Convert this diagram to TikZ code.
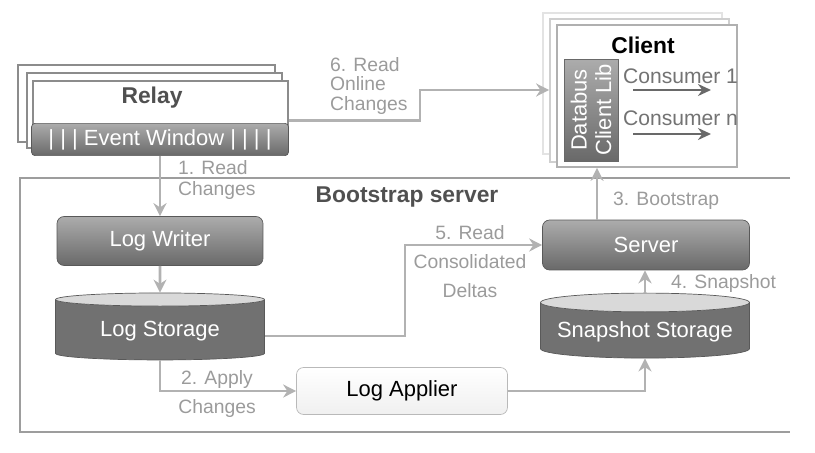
\documentclass[tikz,border=0pt]{standalone}
\usepackage{fontspec}
\setmainfont{Liberation Sans}
\usetikzlibrary{arrows.meta, shapes.geometric, positioning, calc}
\definecolor{BoxTop}{RGB}{172,172,172}
\definecolor{BoxBot}{RGB}{105,105,105}
\definecolor{FlowGray}{RGB}{178,178,178}
\definecolor{LabelGray}{RGB}{155,155,155}
\definecolor{FrameGray}{RGB}{140,140,140}
\definecolor{TitleGray}{RGB}{80,80,80}
\definecolor{ConsGray}{RGB}{115,115,115}

\begin{document}
\begin{tikzpicture}[x=0.02cm, y=-0.02cm, font=\fontsize{12.5}{14}\selectfont,
	proc/.style={rectangle, draw=BoxBot!85!black, rounded corners=4pt,
		top color=BoxTop, bottom color=BoxBot, text=white,
		minimum width=4.12cm, minimum height=0.98cm},
	lightproc/.style={rectangle, draw=gray!55, rounded corners=4pt,
		top color=white, bottom color=gray!12, text=black,
		minimum width=4.22cm, minimum height=0.94cm},
	store/.style={cylinder, shape border rotate=90, aspect=0.1,
		draw=BoxBot!85!black, cylinder uses custom fill,
		cylinder body fill=BoxBot!95, cylinder end fill=gray!30, text=white,
		minimum width=4.18cm, minimum height=1.34cm},
	stk/.style={rectangle, draw=FrameGray, fill=white, line width=0.8pt},
	cstk/.style={rectangle, fill=white, line width=1pt},
	fl/.style={-{Stealth[length=2.6mm, width=2.6mm]}, line width=1.6pt, FlowGray},
	cfl/.style={-{Stealth[length=2.6mm, width=2.4mm]}, line width=1.4pt, BoxBot},
	lbl/.style={text=LabelGray, inner sep=1pt},
	frame/.style={draw=FrameGray!85, line width=1.2pt}]

	\useasboundingbox (0,0) rectangle (815,453);

	% relay stack
	\node[stk, minimum width=5.14cm, minimum height=1.54cm] (relayA) at (146.5,103.5) {};
	\node[stk, minimum width=5.1cm, minimum height=1.5cm] (relayB) at (154.5,110.5) {};
	\node[stk, minimum width=5.1cm, minimum height=1.38cm] (relayC) at (160.5,115.5) {};
	\node[text=TitleGray, font=\fontsize{13}{14}\selectfont\bfseries] (relaytxt) at (152,98) {Relay};
	\node[proc, rounded corners=2pt, minimum width=5.14cm, minimum height=0.58cm] (ew) at (160,139.5)
		{| | | Event Window | | | |};

	% client stack
	\node[cstk, draw=gray!22, minimum width=3.58cm, minimum height=2.82cm] (clA) at (632.5,83.5) {};
	\node[cstk, draw=gray!38, minimum width=3.58cm, minimum height=2.86cm] (clB) at (639.5,90.5) {};
	\node[cstk, draw=gray!62, minimum width=3.6cm, minimum height=2.84cm] (clC) at (647,96) {};
	\node[font=\fontsize{13}{14}\selectfont\bfseries] (cltxt) at (643,45) {Client};
	\node[rectangle, draw=BoxBot, top color=BoxTop, bottom color=BoxBot,
		minimum width=1.08cm, minimum height=2.04cm] (lib) at (591,110) {};
	\node[rotate=90, text=white, align=center, font=\fontsize{12.5}{14}\selectfont] (libtxt) at (lib.center)
		{Databus\\Client Lib};
	\node[anchor=west, text=ConsGray, inner sep=1pt, font=\fontsize{12}{13}\selectfont] (cons1) at (621,76) {Consumer 1};
	\node[anchor=west, text=ConsGray, inner sep=1pt, font=\fontsize{12}{13}\selectfont] (consn) at (621,118) {Consumer n};
	\coordinate (c1a) at (633,90);  \coordinate (c1b) at (711,90);
	\coordinate (cna) at (633,134); \coordinate (cnb) at (711,134);
	\draw[cfl] (c1a) -- (c1b);
	\draw[cfl] (cna) -- (cnb);

	% bootstrap server
	\draw[frame] (790,178) -- (20,178) -- (20,432) -- (790,432);
	\node[text=TitleGray, font=\fontsize{13}{14}\selectfont\bfseries] (bstxt) at (407,197) {Bootstrap server};

	\node[proc] (lw) at (160,241) {Log Writer};
	\node[store] (ls) at (160,331) {Log Storage};
	\node[proc, minimum width=4.14cm, minimum height=1.0cm] (srv) at (646,245) {Server};
	\node[store, minimum height=1.3cm] (ss) at (645,332) {Snapshot Storage};
	\node[lightproc] (la) at (402,391) {Log Applier};

	% flows
	\coordinate (bend5) at (405,245);
	\coordinate (bend6) at (420,90);
	\draw[fl] (ew.south) -- (ew.south |- lw.north);
	\draw[fl] (lw) -- (ls);
	\draw[fl] (ls.south) |- (la.west);
	\draw[fl] (la.east) -| (ss.south);
	\draw[fl] (ss.north) -- (ss.north |- srv.south);
	\draw[fl] ([xshift=-0.98cm]srv.north) -- ([xshift=-0.98cm]srv.north |- clC.south);
	\draw[fl] ([yshift=-0.1cm]ls.east) -| (bend5) -- (srv.west);
	\draw[fl] ([yshift=-0.1cm]relayC.east) -| (bend6) -- (bend6 -| clB.west);

	% labels
	\node[lbl, anchor=west, align=left, font=\fontsize{11}{11.5}\selectfont] (l1) at (176,180) {1. Read\\Changes};
	\node[lbl, align=center, font=\fontsize{11}{16}\selectfont] (l2) at (217,394) {2. Apply\\Changes};
	\node[lbl, anchor=west, font=\fontsize{11}{12}\selectfont] (l3) at (611,201) {3. Bootstrap};
	\node[lbl, anchor=west, font=\fontsize{11}{12}\selectfont] (l4) at (669,284) {4. Snapshot};
	\node[lbl, align=center, font=\fontsize{11}{16.5}\selectfont] (l5) at (470,262) {5. Read\\Consolidated\\Deltas};
	\node[lbl, anchor=west, align=left, font=\fontsize{11}{11}\selectfont] (l6) at (328,86) {6. Read\\Online\\Changes};
\end{tikzpicture}
\end{document}
